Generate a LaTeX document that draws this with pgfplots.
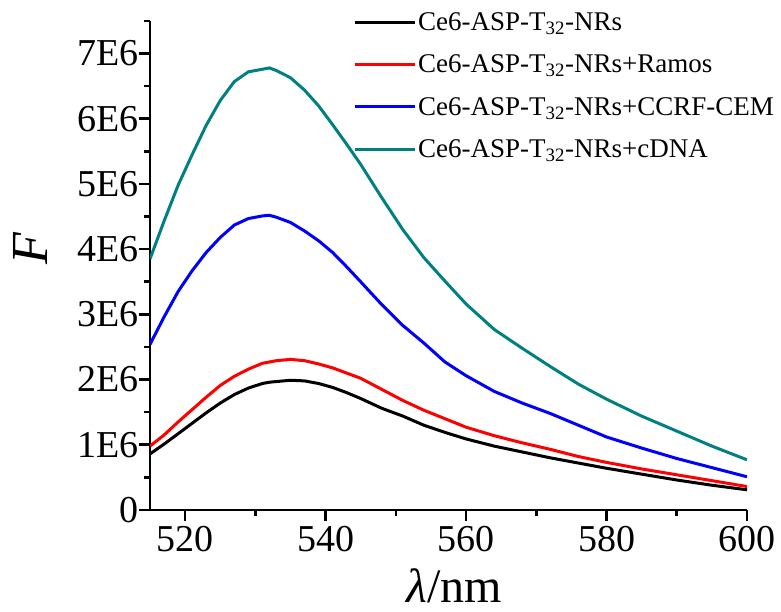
\documentclass[border=0pt]{standalone}
\usepackage{fontspec}
\setmainfont{Liberation Serif}
\usepackage{pgfplots}
\pgfplotsset{compat=1.18}
\definecolor{tealc}{RGB}{0,128,128}
\definecolor{redc}{RGB}{255,0,0}
\definecolor{bluec}{RGB}{0,0,255}
\pgfplotstableread{
x black red blue teal
515 0.86 0.98 2.54 3.85
517 1.01 1.15 2.96 4.43
519 1.17 1.35 3.35 4.98
521 1.33 1.54 3.67 5.45
523 1.49 1.73 3.95 5.90
525 1.64 1.91 4.18 6.28
527 1.77 2.05 4.37 6.57
529 1.87 2.16 4.47 6.72
531 1.94 2.25 4.51 6.76
532 1.96 2.27 4.52 6.78
533 1.97 2.29 4.49 6.74
535 1.99 2.31 4.41 6.63
537 1.98 2.29 4.28 6.44
539 1.94 2.24 4.13 6.20
541 1.88 2.18 3.95 5.91
543 1.80 2.10 3.73 5.61
545 1.71 2.02 3.50 5.30
548 1.56 1.85 3.15 4.79
551 1.44 1.68 2.83 4.30
554 1.30 1.53 2.56 3.87
557 1.19 1.40 2.27 3.51
560 1.09 1.27 2.06 3.16
564 0.98 1.14 1.82 2.77
568 0.89 1.03 1.64 2.48
572 0.80 0.93 1.48 2.20
576 0.72 0.82 1.30 1.93
580 0.64 0.73 1.12 1.70
585 0.55 0.63 0.95 1.44
590 0.46 0.54 0.79 1.21
595 0.38 0.45 0.65 0.98
600 0.31 0.36 0.51 0.77
}\datatable
\begin{document}
\begin{tikzpicture}
\useasboundingbox (-150pt,-102pt) rectangle (631pt,510pt);
\begin{axis}[
  scale only axis, width=597pt, height=489pt,
  xmin=515, xmax=600, ymin=0, ymax=7.5,
  axis x line*=bottom, axis y line*=left,
  axis line style={line width=2.6pt, black},
  every tick/.style={black, line width=2.6pt},
  tick align=outside,
  major tick length=11pt, minor tick length=6pt,
  xtick={520,540,560,580,600}, xticklabels={520,540,560,580,600},
  minor xtick={530,550,570,590},
  ytick={0,1,2,3,4,5,6,7}, yticklabels={0,1E6,2E6,3E6,4E6,5E6,6E6,7E6},
  minor ytick={0.5,1.5,2.5,3.5,4.5,5.5,6.5,7.5},
  ticklabel style={font=\fontsize{38}{44}\selectfont},
  yticklabel style={xshift=3pt},
  xticklabel style={yshift=-2pt},
  xlabel={\textit{λ}/nm}, ylabel={\textit{F}},
  xlabel style={font=\fontsize{48}{52}\selectfont, at={(axis description cs:0.51,-0.155)}, anchor=center},
  ylabel style={font=\fontsize{52}{56}\selectfont, at={(axis description cs:-0.2,0.535)}, anchor=center},
  legend cell align=left,
  legend style={at={(axis description cs:0.335,1.026)}, anchor=north west,
    draw=none, fill=none, row sep=19pt, font=\fontsize{27}{30}\selectfont},
  legend image code/.code={\draw[#1] (0pt,0pt) -- (60pt,0pt);},
  every axis plot/.append style={line width=3pt},
]
\addplot[black] table[x=x,y=black] {\datatable};
\addlegendentry{Ce6-ASP-T\textsubscript{32}-NRs}
\addplot[redc] table[x=x,y=red] {\datatable};
\addlegendentry{Ce6-ASP-T\textsubscript{32}-NRs+Ramos}
\addplot[bluec] table[x=x,y=blue] {\datatable};
\addlegendentry{Ce6-ASP-T\textsubscript{32}-NRs+CCRF-CEM}
\addplot[tealc] table[x=x,y=teal] {\datatable};
\addlegendentry{Ce6-ASP-T\textsubscript{32}-NRs+cDNA}
\end{axis}
\end{tikzpicture}
\end{document}
